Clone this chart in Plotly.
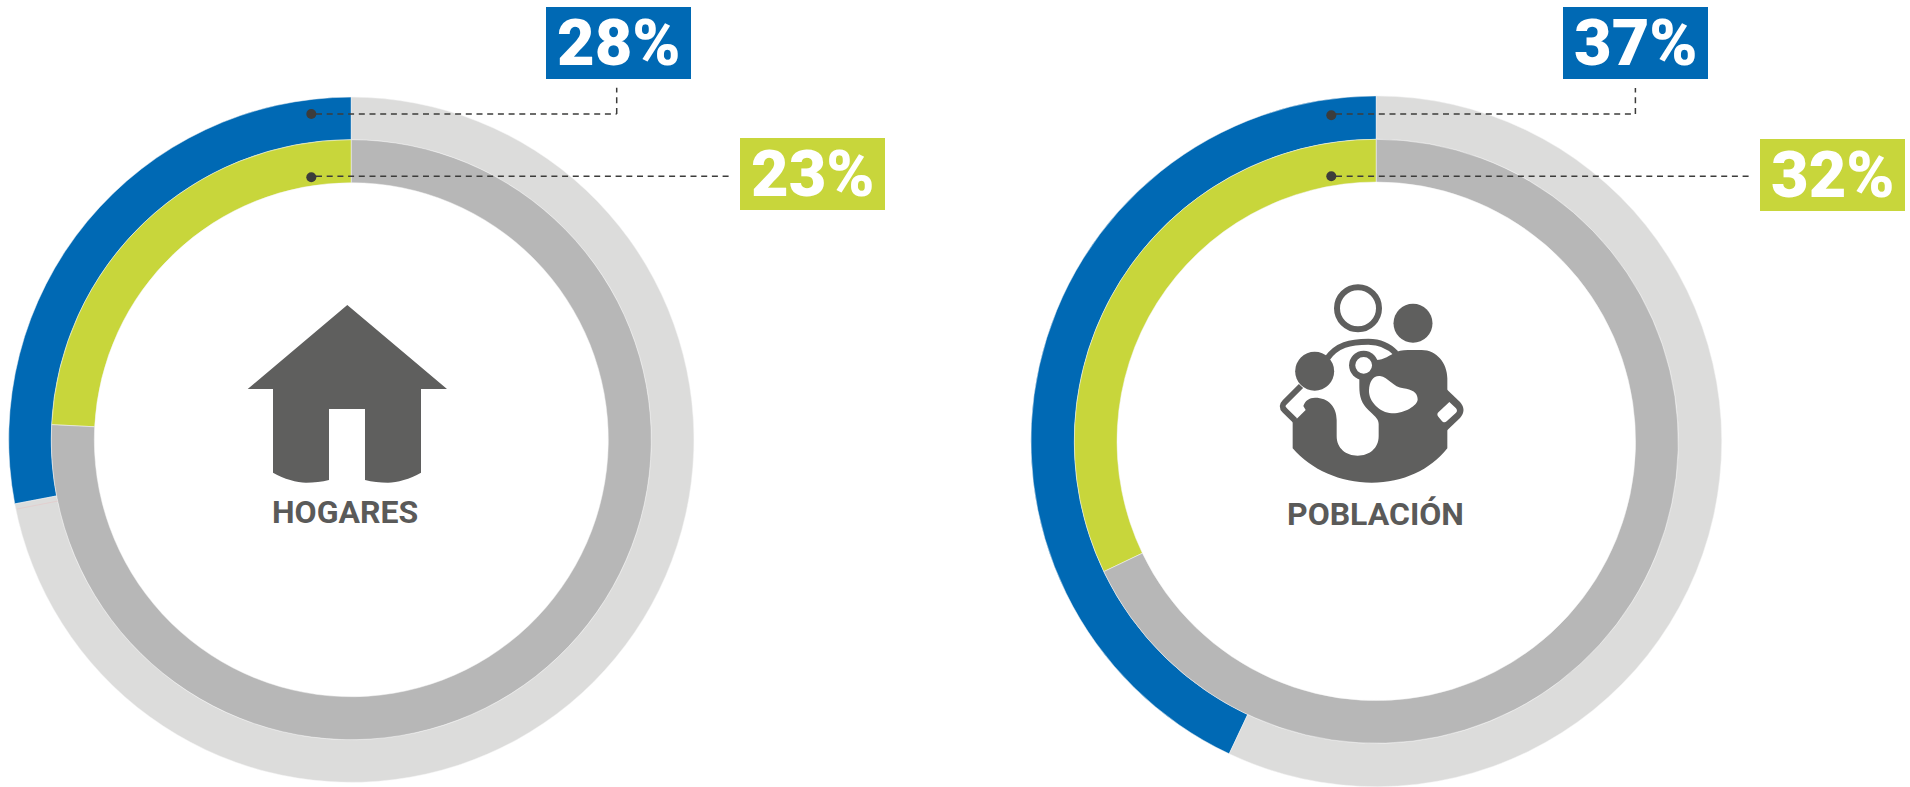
import plotly.graph_objects as go

W, H = 1910, 787

# ---------- data ----------
panel_names = ["HOGARES", "POBLACIÓN"]
blue_labels = ["28%", "37%"]
green_labels = ["23%", "32%"]
# arc shares as drawn in the picture (percent of the ring)
blue_arcs = [28.0, 43.0]
green_arcs = [24.2, 32.1]

BLUE, GREEN = "#0069b4", "#c8d63b"
LIGHT, MID = "#dcdcdb", "#b7b7b7"
DARK, TEXT = "#5f5f5e", "#5a5a59"
DOT = "#3c3c3b"

# ring geometry in pixels: cx, cy, r_outer, r_mid, r_inner
geo = [(351.3, 439.7, 342.6, 300.0, 257.0),
       (1376.3, 441.3, 345.4, 302.0, 259.3)]


def X(v):
    return v / W


def Y(v):
    return 1 - v / H


def domain(cx, cy, r):
    return dict(x=[X(cx - r), X(cx + r)], y=[Y(cy + r), Y(cy - r)])


def path(cmds, ox=0, oy=0, k=1.0):
    """cmds: list of (letter, x1, y1, x2, y2 ...) -> SVG path in paper units."""
    out = []
    for c in cmds:
        pts = c[1:]
        xy = []
        for i in range(0, len(pts), 2):
            xy.append(f"{X(ox + pts[i] * k):.6f},{Y(oy + pts[i + 1] * k):.6f}")
        out.append(c[0] + " ".join(xy))
    return " ".join(out) + " Z"


fig = go.Figure()

for (cx, cy, ro, rm, ri), b, g in zip(geo, blue_arcs, green_arcs):
    fig.add_trace(go.Pie(values=[b, 100 - b], domain=domain(cx, cy, ro), hole=rm / ro,
                         sort=False, direction="clockwise", rotation=-b * 3.6,
                         marker=dict(colors=[BLUE, LIGHT], line=dict(color="#f4f4f4", width=0.5)),
                         textinfo="none", hoverinfo="skip", showlegend=False))
    fig.add_trace(go.Pie(values=[g, 100 - g], domain=domain(cx, cy, rm), hole=ri / rm,
                         sort=False, direction="clockwise", rotation=-g * 3.6,
                         marker=dict(colors=[GREEN, MID], line=dict(color="#f4f4f4", width=0.5)),
                         textinfo="none", hoverinfo="skip", showlegend=False))

shapes = []
annots = []


def rect(x0, y0, x1, y1, color):
    shapes.append(dict(type="rect", xref="paper", yref="paper", x0=X(x0), x1=X(x1), y0=Y(y1), y1=Y(y0),
                       fillcolor=color, line_width=0, layer="above"))


def dash(x0, y0, x1, y1):
    shapes.append(dict(type="line", xref="paper", yref="paper", x0=X(x0), x1=X(x1), y0=Y(y0), y1=Y(y1),
                       line=dict(color=DOT, width=1.5, dash="6px,4.7px"), layer="above"))


def dot(x, y, r=5):
    shapes.append(dict(type="circle", xref="paper", yref="paper", x0=X(x - r), x1=X(x + r), y0=Y(y + r), y1=Y(y - r),
                       fillcolor=DOT, line_width=0, layer="above"))


def circle(x, y, r, fill=None, stroke=None, sw=0):
    shapes.append(dict(type="circle", xref="paper", yref="paper", x0=X(x - r), x1=X(x + r), y0=Y(y + r), y1=Y(y - r),
                       fillcolor=fill if fill else "rgba(0,0,0,0)",
                       line=dict(color=stroke if stroke else "rgba(0,0,0,0)", width=sw), layer="above"))


def filled(cmds, color, **kw):
    shapes.append(dict(type="path", xref="paper", yref="paper", path=path(cmds, **kw),
                       fillcolor=color, line_width=0, layer="above"))


def stroked(cmds, width, **kw):
    p = path(cmds, **kw)[:-2]
    shapes.append(dict(type="path", xref="paper", yref="paper", path=p,
                       fillcolor="rgba(0,0,0,0)", line=dict(color=DARK, width=width), layer="above"))


def label(cx, cy, text, color, size):
    annots.append(dict(xref="paper", yref="paper", x=X(cx), y=Y(cy), text=text, showarrow=False,
                       xanchor="center", yanchor="middle",
                       font=dict(family="Roboto", size=size, color=color, weight=700 if color == TEXT else 900)))


# value boxes
boxes = [(546, 7, 691, 79, blue_labels[0], BLUE), (740, 138, 885, 210, green_labels[0], GREEN),
         (1563, 7, 1708, 79, blue_labels[1], BLUE), (1760, 139, 1905, 211, green_labels[1], GREEN)]
for x0, y0, x1, y1, t, c in boxes:
    rect(x0, y0, x1, y1, c)
    label((x0 + x1) / 2, (y0 + y1) / 2, t, "#ffffff", 65)

# leader lines
dash(316, 114, 616.7, 114); dash(616.7, 114, 616.7, 87.7)
dash(316, 176.3, 730, 176.3)
dot(311.3, 114); dot(311.3, 177.3)
dash(1336, 114, 1635.4, 114); dash(1635.4, 114, 1635.4, 88)
dash(1336, 176.3, 1748.6, 176.3)
dot(1331.3, 115.3); dot(1331.3, 176.3)

# faint seam on the left ring
shapes.append(dict(type="line", xref="paper", yref="paper", x0=X(17), y0=Y(509), x1=X(58), y1=Y(501),
                   line=dict(color="#e3cccc", width=0.8), layer="above"))

# house icon
filled([("M", 347.3, 305), ("L", 447, 389), ("L", 421, 389), ("L", 421, 472.7),
        ("C", 410, 479, 397, 482.7, 388, 482.7), ("C", 380, 482.7, 372, 482, 365, 480),
        ("L", 365, 409), ("L", 329, 409), ("L", 329, 480),
        ("C", 322, 482, 314, 482.7, 306, 482.7), ("C", 297, 482.7, 284, 479, 273, 472.7),
        ("L", 273, 389), ("L", 247.7, 389)], DARK)

# population icon (authored in a 3x local grid)
icon = dict(ox=1240, oy=300, k=1 / 3)
circle(1358, 308.3, 21, stroke=DARK, sw=6)
circle(1240 + 519 / 3, 300 + 70 / 3, 19.5, fill=DARK)
stroked([("M", 262, 175), ("C", 290, 135, 330, 125, 385, 125), ("C", 420, 125, 445, 135, 468, 160)], 6, **icon)
stroked([("M", 183, 258), ("L", 135, 306), ("C", 125, 316, 125, 322, 135, 332), ("L", 165, 361)], 6, **icon)
circle(1240 + 224 / 3, 300 + 214 / 3, 19.5, fill=DARK)
filled([("M", 470, 155), ("C", 490, 148, 520, 150, 545, 150), ("C", 590, 150, 622, 190, 622, 235),
        ("L", 622, 445), ("C", 570, 510, 490, 548, 395, 548), ("C", 300, 548, 215, 510, 158, 445),
        ("L", 158, 362), ("L", 172, 355), ("L", 197, 330), ("L", 190, 318),
        ("C", 195, 302, 208, 293, 225, 293), ("C", 265, 293, 290, 320, 290, 360),
        ("L", 290, 408), ("C", 290, 445, 318, 467, 353, 467), ("C", 388, 467, 416, 445, 416, 408),
        ("L", 416, 372), ("C", 416, 355, 400, 345, 385, 330), ("C", 365, 310, 358, 290, 358, 260),
        ("L", 358, 235), ("L", 410, 180), ("C", 430, 180, 450, 165, 470, 155)], DARK, **icon)
# right strap with its opening
filled([("M", 620, 268), ("L", 660, 306), ("C", 674, 322, 674, 338, 660, 354), ("L", 620, 392)], DARK, **icon)
filled([("M", 628, 306), ("L", 648, 325), ("C", 652, 330, 652, 335, 648, 338), ("L", 620, 364),
        ("C", 615, 368, 610, 368, 605, 362), ("L", 595, 350), ("C", 591, 345, 591, 340, 596, 336)], "#ffffff", **icon)
# ring and bean openings
circle(1240 + 371 / 3, 300 + 196 / 3, 14.6, fill=DARK)
circle(1240 + 371 / 3, 300 + 196 / 3, 8.4, fill="#ffffff")
filled([("M", 420, 228), ("C", 445, 232, 460, 262, 490, 265), ("C", 515, 268, 533, 278, 533, 298),
        ("C", 533, 318, 490, 342, 455, 340), ("C", 420, 338, 385, 305, 387, 270),
        ("C", 388, 245, 400, 226, 420, 228)], "#ffffff", **icon)

# panel titles
label(345, 511.5, panel_names[0], TEXT, 32)
label(1375.2, 513.5, panel_names[1], TEXT, 32)

fig.update_layout(width=W, height=H, margin=dict(l=0, r=0, t=0, b=0, pad=0),
                  paper_bgcolor="#ffffff", plot_bgcolor="#ffffff",
                  shapes=shapes, annotations=annots, showlegend=False)

fig.write_html("out.html", config=dict(displayModeBar=False),
               post_script="document.body.style.margin='0';document.documentElement.style.overflow='hidden';")
